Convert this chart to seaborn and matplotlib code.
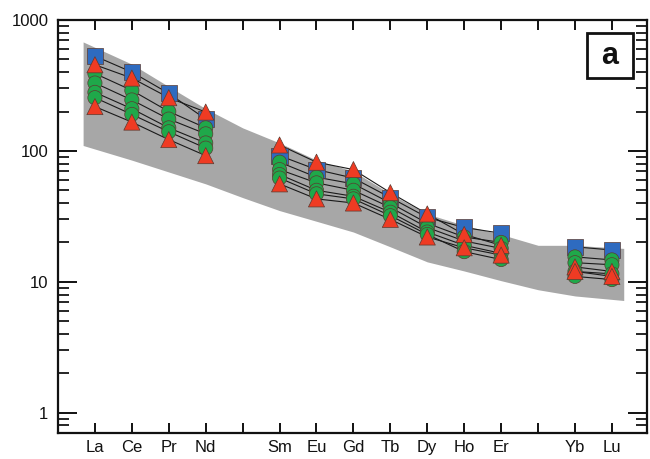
import numpy as np
import pandas as pd
import matplotlib
matplotlib.use("Agg")
import matplotlib.pyplot as plt
import seaborn as sns
from matplotlib.patches import Rectangle

# REE positions (Pm and Tm kept as empty slots)
elements = ["La", "Ce", "Pr", "Nd", "Pm", "Sm", "Eu", "Gd", "Tb", "Dy", "Ho", "Er", "Tm", "Yb", "Lu"]
tick_labels = ["La", "Ce", "Pr", "Nd", "", "Sm", "Eu", "Gd", "Tb", "Dy", "Ho", "Er", "", "Yb", "Lu"]

nan = np.nan
# chondrite-normalised values
blue_1 = [530, 400, 275, 175, nan, 92, 72, 62, 44, 31, 26, 23.5, nan, 18.5, 17.5]
green_1 = [390, 290, 200, 150, nan, 82, 63, 56, 40, 28, 22, 20, nan, 15.5, 14.7]
green_2 = [330, 245, 175, 135, nan, 72, 57, 50, 37, 26, 20.5, 18, nan, 14, 13.5]
green_3 = [280, 210, 150, 115, nan, 66, 50, 45, 34, 24, 19, 16.5, nan, 12, 11.5]
green_4 = [255, 190, 140, 105, nan, 62, 47, 43, 32, 23, 17, 14.8, nan, 11, 10.4]
red_1 = [455, 360, 255, 198, nan, 111, 82, 72, 48, 33, 23, 19, nan, 13, 12]
red_2 = [218, 166, 122, 92, nan, 56, 43, 40, 30, 22, 18.2, 16, nan, 12, 11]

# grey field (upper / lower limits)
env_top = [680, 460, 310, 210, 150, 115, 85, 70, 47, 33, 27, 23, 19, 19, 18]
env_bot = [110, 85, 69, 56, 44, 35, 29, 24, 18.5, 14.2, 12.1, 10.2, 8.7, 7.8, 7.2]

samples = [
    ("b1", "square", blue_1),
    ("g1", "circle", green_1),
    ("g2", "circle", green_2),
    ("g3", "circle", green_3),
    ("g4", "circle", green_4),
    ("r1", "triangle", red_1),
    ("r2", "triangle", red_2),
]

rows = []
for name, grp, vals in samples:
    seg = 0
    for i, v in enumerate(vals):
        if np.isnan(v):
            seg += 1
            continue
        rows.append({"pos": i, "value": v, "sample": name, "group": grp,
                     "unit": f"{name}_{seg}"})
df = pd.DataFrame(rows)

sns.set_style("ticks")
plt.rcParams["font.family"] = ["Liberation Sans", "DejaVu Sans"]

fig = plt.figure(figsize=(6.5, 4.59), dpi=100)
ax = fig.add_axes([58 / 650, 1 - 433 / 459, 589 / 650, 413 / 459])

# grey envelope, slightly wider than La..Lu
env_x = np.arange(len(elements), dtype=float)
env_x[0] -= 0.32
env_x[-1] += 0.32
ax.fill_between(env_x, env_bot, env_top, color="#a7a7a7", lw=0, zorder=1)

sns.lineplot(data=df, x="pos", y="value", units="unit", estimator=None,
             color="#1a1a1a", lw=0.8, legend=False, ax=ax, zorder=2)

sns.scatterplot(data=df, x="pos", y="value", hue="group", style="group", size="group",
                hue_order=["square", "circle", "triangle"],
                palette={"square": "#2e6bc0", "circle": "#1fa84a", "triangle": "#ef3b23"},
                markers={"square": "s", "circle": "o", "triangle": "^"},
                sizes={"square": 135, "circle": 105, "triangle": 135},
                edgecolor="#5a3a30", linewidth=0.5, legend=False, ax=ax, zorder=3)

ax.set_yscale("log")
ax.set_ylim(0.7, 1000)
ax.set_xlim(-1, 14.95)
ax.set_xticks(range(len(elements)))
ax.set_xticklabels(tick_labels)
ax.set_yticks([1, 10, 100, 1000])
ax.set_yticklabels(["1", "10", "100", "1000"])
ax.set_xlabel("")
ax.set_ylabel("")

ax.tick_params(axis="y", which="major", direction="in", length=14, width=1.4,
               right=True, labelsize=12, pad=7, colors="#111111")
ax.tick_params(axis="y", which="minor", direction="in", length=8, width=1.4, right=True)
ax.tick_params(axis="x", which="major", direction="in", length=7, width=1.4,
               top=True, labelsize=12, pad=5, colors="#111111")
for sp in ax.spines.values():
    sp.set_linewidth(1.6)
    sp.set_color("#111111")

# panel label
ax.add_patch(Rectangle((0.898, 0.86), 0.078, 0.109, transform=ax.transAxes,
                       fill=False, lw=2.0, ec="#111111", zorder=5))
ax.text(0.937, 0.914, "a", transform=ax.transAxes, ha="center", va="center",
        fontsize=22, fontweight="bold", color="#111111", zorder=6)

fig.savefig("out.png", dpi=100)
